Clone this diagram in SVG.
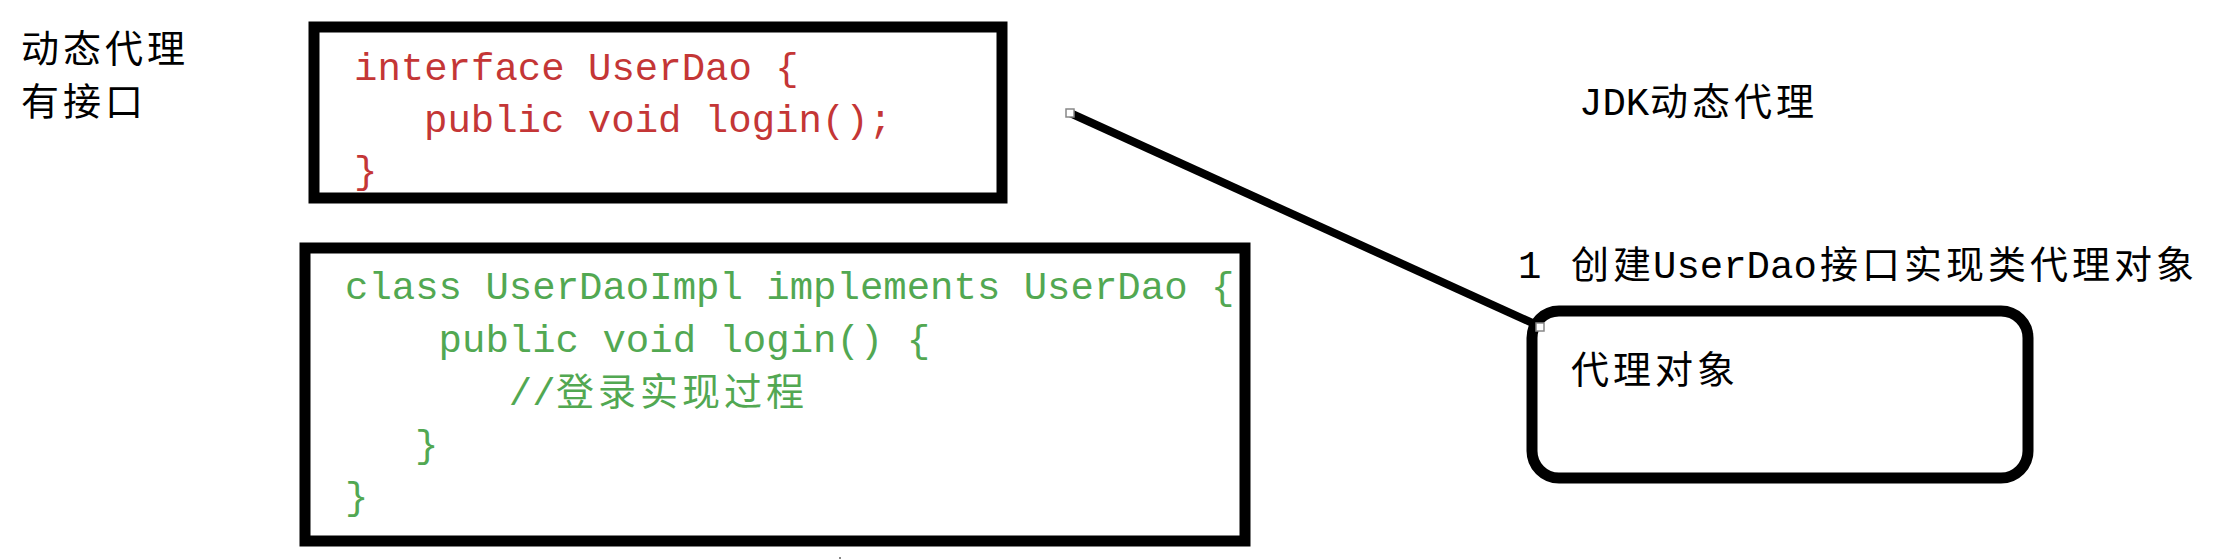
<svg xmlns="http://www.w3.org/2000/svg" width="2226" height="560" viewBox="0 0 2226 560">
<style>
.cjk{font-family:"Noto Sans CJK SC","Noto Sans",sans-serif;font-size:38px;letter-spacing:4px;fill:#000}
.code{font-family:"Liberation Mono","DejaVu Sans Mono",monospace;font-size:39px;white-space:pre}
.red{fill:#c43636}
.green{fill:#52a852}
.box{fill:#fff;stroke:#000;stroke-width:11}
.mono{font-family:"Liberation Mono",monospace;font-size:39px;fill:#000}
.handle{fill:#fff;stroke:#888;stroke-width:1.5}
</style>
<rect x="0" y="0" width="2226" height="560" fill="#fff"/>

<g id="title-left">
<text class="cjk" x="21" y="62">动态代理</text>
<text class="cjk" x="21" y="115">有接口</text>
</g>

<g id="interface-box">
<rect class="box" x="314" y="27" width="688" height="171"/>
<text class="code red" x="354" y="80">interface UserDao {</text>
<text class="code red" x="424" y="132">public void login();</text>
<text class="code red" x="354" y="183">}</text>
</g>

<g id="impl-box">
<rect class="box" x="305" y="248" width="940" height="293" stroke-width="10"/>
<text class="code green" x="345" y="299">class UserDaoImpl implements UserDao {</text>
<text class="code green" x="438.6" y="352">public void login() {</text>
<text class="code green" x="508.8" y="405">//<tspan class="cjk green" x="556" letter-spacing="4.5">登录实现过程</tspan></text>
<text class="code green" x="415" y="457">}</text>
<text class="code green" x="345" y="509">}</text>
</g>

<g id="jdk-title">
<text class="mono" x="1579" y="115">JDK<tspan class="cjk" x="1650" letter-spacing="3">动态代理</tspan></text>
</g>

<g id="step-label">
<text class="mono" x="1518" y="278">1<tspan class="cjk" x="1571">创建</tspan><tspan x="1653">UserDao</tspan><tspan class="cjk" x="1820" letter-spacing="3.6">接口实现类代理对象</tspan></text>
</g>

<g id="proxy-box">
<rect class="box" x="1532" y="311" width="496" height="167" rx="27" ry="27" stroke-width="10"/>
<text class="cjk" x="1571" y="383">代理对象</text>
</g>

<g id="connectors">
<line x1="1070" y1="113" x2="1539" y2="326" stroke="#000" stroke-width="8"/>
<rect class="handle" x="1066" y="109" width="8" height="8"/>
<rect class="handle" x="1536" y="323" width="8" height="8"/>
</g>

<rect x="839" y="557" width="2" height="2" fill="#888"/>
</svg>
